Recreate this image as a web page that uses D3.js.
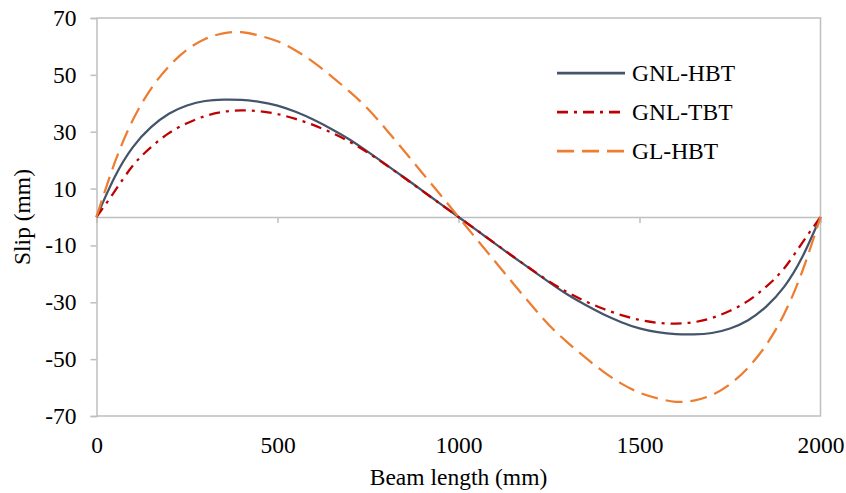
<!DOCTYPE html>
<html>
<head>
<meta charset="utf-8">
<script src="https://cdn.jsdelivr.net/npm/d3@7"></script>
<style>
  body { margin: 0; background: #fff; }
</style>
</head>
<body>
<div id="chart"></div>
<script>
const beamLength = [0, 50, 100, 150, 200, 250, 300, 350, 400, 450, 500, 550, 600, 650, 700, 750, 800, 850, 900, 950,
  1000, 1050, 1100, 1150, 1200, 1250, 1300, 1350, 1400, 1450, 1500, 1550, 1600, 1650, 1700, 1750, 1800, 1850, 1900, 1950, 2000];

const gnlHbt = [0, 14, 24.5, 31.5, 36.3, 39.2, 40.8, 41.3, 41.2, 40.5, 39.2, 37, 34.2, 30.9, 27.2, 22.9, 18.4, 13.9, 9.3, 4.6,
  0, -4.6, -9.3, -13.9, -18.4, -22.9, -27.2, -30.9, -34.2, -37, -39.2, -40.5, -41.2, -41.3, -40.8, -39.2, -36.3, -31.5, -24.5, -14, 0];

const gnlTbt = [0, 9, 18, 24.5, 29.5, 33, 35.5, 37, 37.5, 37.2, 36.2, 34.5, 32.3, 29.6, 26.4, 22.6, 18.3, 13.8, 9.2, 4.6,
  0, -4.6, -9.2, -13.8, -18.3, -22.6, -26.4, -29.6, -32.3, -34.5, -36.2, -37.2, -37.5, -37, -35.5, -33, -29.5, -24.5, -18, -9, 0];

const glHbt = [0, 19, 34, 45, 53, 58.8, 62.6, 64.6, 65, 63.8, 61.8, 58.6, 54.4, 49.4, 44, 38, 30.8, 23.2, 15.5, 7.8,
  0, -7.8, -15.5, -23.2, -30.8, -38, -44, -49.4, -54.4, -58.6, -61.8, -63.8, -65, -64.6, -62.6, -58.8, -53, -45, -34, -19, 0];

const xTicks = [0, 500, 1000, 1500, 2000];
const yTicks = [-70, -50, -30, -10, 10, 30, 50, 70];

const series = [
  { name: "GNL-HBT", values: gnlHbt, color: "#44546A", dash: null, width: 2.25 },
  { name: "GNL-TBT", values: gnlTbt, color: "#C00000", dash: "11,6,3,6", width: 2.25 },
  { name: "GL-HBT", values: glHbt, color: "#ED7D31", dash: "17,8", width: 2.25 }
];

const width = 846, height = 493;
const axisColor = "#BFBFBF";
const font = "'Liberation Serif', 'Times New Roman', Times, serif";

const svg = d3.select("#chart")
  .append("svg")
  .attr("width", width)
  .attr("height", height);

const x = d3.scaleLinear()
  .domain([0, 2000])
  .range([96.5, 820.5]);

const y = d3.scaleLinear()
  .domain([-70, 70])
  .range([416, 18]);

// plot frame (top, right, bottom)
svg.append("path")
  .attr("d", `M${x(0)},${y(70)}H${x(2000)}V${y(-70)}H${x(0)}`)
  .attr("fill", "none")
  .attr("stroke", axisColor)
  .attr("stroke-width", 1.5);

// y axis
const yAxis = svg.append("g")
  .attr("transform", `translate(${x(0)},0)`)
  .call(d3.axisLeft(y).tickValues(yTicks).tickSize(6).tickPadding(14).tickFormat(d => String(d)));
yAxis.select(".domain").attr("stroke", axisColor).attr("stroke-width", 1.5);
yAxis.selectAll(".tick line").attr("stroke", axisColor).attr("stroke-width", 1.5);

// x axis line at zero
const xZero = svg.append("g")
  .attr("transform", `translate(0,${y(0)})`)
  .call(d3.axisBottom(x).tickValues(xTicks).tickSize(6).tickFormat(""));
xZero.select(".domain").attr("stroke", axisColor).attr("stroke-width", 1.5);
xZero.selectAll(".tick line").attr("stroke", axisColor).attr("stroke-width", 1.5);

// x tick labels at bottom
const xLabels = svg.append("g")
  .attr("transform", `translate(0,${y(-70)})`)
  .call(d3.axisBottom(x).tickValues(xTicks).tickSize(0).tickPadding(20).tickFormat(d => String(d)));
xLabels.select(".domain").remove();

// lines
const line = d3.line()
  .x((d, i) => x(beamLength[i]))
  .y(d => y(d))
  .curve(d3.curveNatural);

series.forEach(s => {
  svg.append("path")
    .datum(s.values)
    .attr("fill", "none")
    .attr("stroke", s.color)
    .attr("stroke-width", s.width)
    .attr("stroke-dasharray", s.dash)
    .attr("d", line);
});

// legend
const legend = svg.append("g").attr("transform", "translate(557,73)");
series.forEach((s, i) => {
  const g = legend.append("g").attr("transform", `translate(0,${i * 39})`);
  g.append("line")
    .attr("x1", 0).attr("x2", 68)
    .attr("stroke", s.color)
    .attr("stroke-width", s.width + 0.5)
    .attr("stroke-dasharray", s.dash);
  g.append("text")
    .attr("x", 75)
    .attr("dy", "0.35em")
    .text(s.name);
});

// axis titles
svg.append("text")
  .attr("x", x(1000))
  .attr("y", 485)
  .attr("text-anchor", "middle")
  .text("Beam length (mm)");

svg.append("text")
  .attr("transform", `translate(30,${y(0)}) rotate(-90)`)
  .attr("text-anchor", "middle")
  .text("Slip (mm)");

svg.selectAll("text")
  .attr("font-family", null)
  .style("font-family", font)
  .style("font-size", "23.5px")
  .style("fill", "#000");
</script>
</body>
</html>
